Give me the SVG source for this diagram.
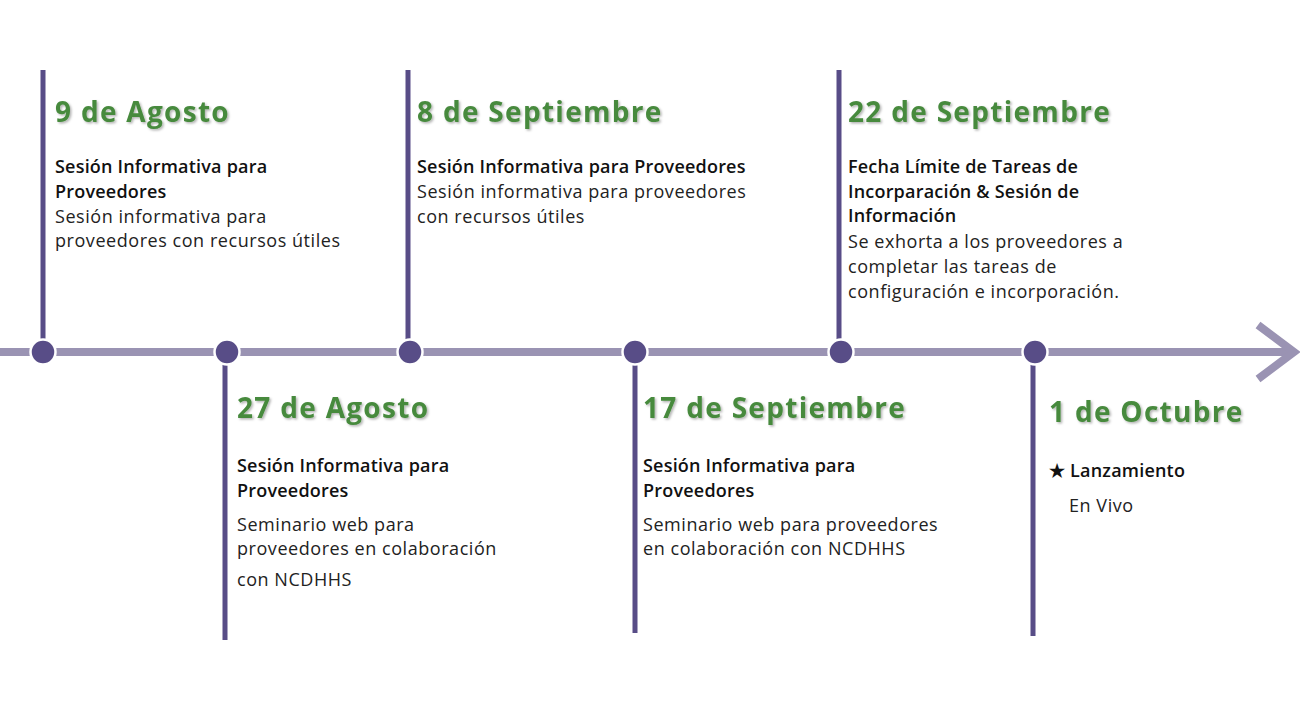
<svg xmlns="http://www.w3.org/2000/svg" width="1300" height="705" viewBox="0 0 1300 705">
<defs>
<style>
.vl{stroke:#584d87;stroke-width:5;fill:none}
.dot{fill:#584d87;stroke:#fff;stroke-width:2.5}
.hd{font-family:"Open Sans","Liberation Sans",sans-serif;font-weight:700;font-size:28px;letter-spacing:1.3px;fill:#478a3e;filter:url(#sh)}
.tt{font-family:"Open Sans","Liberation Sans",sans-serif;font-weight:600;font-size:18px;letter-spacing:0.2px;fill:#111}
.bd{font-family:"Open Sans","Liberation Sans",sans-serif;font-weight:400;font-size:18px;letter-spacing:0.55px;fill:#222}
</style>
<filter id="sh" x="-5%" y="-20%" width="110%" height="150%">
<feDropShadow dx="1.5" dy="1.5" stdDeviation="1" flood-color="#000" flood-opacity="0.3"/>
</filter>
</defs>
<rect width="1300" height="705" fill="#fff"/>
<g id="connectors">
<line x1="0" y1="352" x2="1292" y2="352" stroke="#9a93b3" stroke-width="8"/>
<polyline points="1258,325 1294,352 1258,379" fill="none" stroke="#9a93b3" stroke-width="8"/>
<line class="vl" x1="43" y1="70" x2="43" y2="342"/>
<line class="vl" x1="225" y1="362" x2="225" y2="640"/>
<line class="vl" x1="408" y1="70" x2="408" y2="342"/>
<line class="vl" x1="635" y1="362" x2="635" y2="633"/>
<line class="vl" x1="839" y1="70" x2="839" y2="342"/>
<line class="vl" x1="1033" y1="362" x2="1033" y2="636"/>
</g>
<g id="node1">
<circle class="dot" cx="43" cy="352" r="12.5"/>
<text class="hd" x="55" y="122">9 de Agosto</text>
<text class="tt" x="55" y="173">Sesión Informativa para</text>
<text class="tt" x="55" y="198">Proveedores</text>
<text class="bd" x="55" y="223">Sesión informativa para</text>
<text class="bd" x="55" y="247">proveedores con recursos útiles</text>
</g>
<g id="node2">
<circle class="dot" cx="227" cy="352" r="12.5"/>
<text class="hd" x="237" y="418">27 de Agosto</text>
<text class="tt" x="237" y="472">Sesión Informativa para</text>
<text class="tt" x="237" y="497">Proveedores</text>
<text class="bd" x="237" y="531">Seminario web para</text>
<text class="bd" x="237" y="555">proveedores en colaboración</text>
<text class="bd" x="237" y="586">con NCDHHS</text>
</g>
<g id="node3">
<circle class="dot" cx="410" cy="352" r="12.5"/>
<text class="hd" x="417" y="122">8 de Septiembre</text>
<text class="tt" x="417" y="173">Sesión Informativa para Proveedores</text>
<text class="bd" x="417" y="198">Sesión informativa para proveedores</text>
<text class="bd" x="417" y="223">con recursos útiles</text>
</g>
<g id="node4">
<circle class="dot" cx="635" cy="352" r="12.5"/>
<text class="hd" x="643" y="418">17 de Septiembre</text>
<text class="tt" x="643" y="472">Sesión Informativa para</text>
<text class="tt" x="643" y="497">Proveedores</text>
<text class="bd" x="643" y="531">Seminario web para proveedores</text>
<text class="bd" x="643" y="555">en colaboración con NCDHHS</text>
</g>
<g id="node5">
<circle class="dot" cx="841" cy="352" r="12.5"/>
<text class="hd" x="848" y="122">22 de Septiembre</text>
<text class="tt" x="848" y="173">Fecha Límite de Tareas de</text>
<text class="tt" x="848" y="198">Incorparación &amp; Sesión de</text>
<text class="tt" x="848" y="222">Información</text>
<text class="bd" x="848" y="248">Se exhorta a los proveedores a</text>
<text class="bd" x="848" y="273">completar las tareas de</text>
<text class="bd" x="848" y="298">configuración e incorporación.</text>
</g>
<g id="node6">
<circle class="dot" cx="1035" cy="352" r="12.5"/>
<text class="hd" x="1049" y="422">1 de Octubre</text>
<text class="tt" x="1049" y="477">★ Lanzamiento</text>
<text class="bd" x="1069" y="512">En Vivo</text>
</g>
</svg>
